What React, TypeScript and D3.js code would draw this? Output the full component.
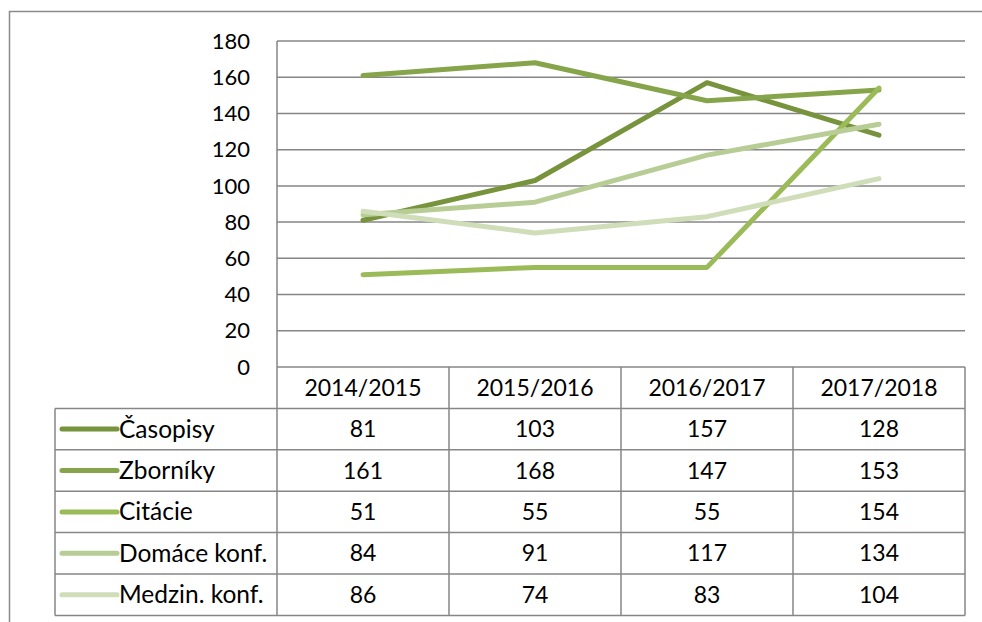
import * as d3 from 'd3';

const years = ['2014/2015', '2015/2016', '2016/2017', '2017/2018'];
const seriesNames = ['Časopisy', 'Zborníky', 'Citácie', 'Domáce konf.', 'Medzin. konf.'];
const casopisy = [81, 103, 157, 128];
const zborniky = [161, 168, 147, 153];
const citacie = [51, 55, 55, 154];
const domace = [84, 91, 117, 134];
const medzin = [86, 74, 83, 104];
const yTicks = [0, 20, 40, 60, 80, 100, 120, 140, 160, 180];

const seriesValues = [casopisy, zborniky, citacie, domace, medzin];
const colors = ['#77933c', '#86a44a', '#9bbb59', '#b7cd95', '#cfddb9'];

const W = 982;
const H = 622;
const plotLeft = 277;
const plotRight = 965;
const plotTop = 41;
const plotBottom = 367;
const rowH = 41.4;
const legendLeft = 55;
const FONT = 'Lato, "Open Sans", sans-serif';
const gridColor = '#868686';

export default function App() {
  const x = d3.scaleBand<string>().domain(years).range([plotLeft, plotRight]);
  const y = d3.scaleLinear().domain([0, 180]).range([plotBottom, plotTop]);
  const line = d3
    .line<number>()
    .x((_, i) => (x(years[i]) as number) + x.bandwidth() / 2)
    .y((d) => y(d));

  const headerBottom = plotBottom + rowH;
  const tableBottom = headerBottom + rowH * seriesNames.length;

  return (
    <svg
      width={W}
      height={H}
      style={{ position: 'absolute', left: 0, top: 0, background: '#fff' }}
      fontFamily={FONT}
    >
      <rect x={0} y={0} width={W} height={H} fill="#fff" />
      {/* outer chart frame, clipped on right and bottom */}
      <rect x={9.5} y={11.5} width={W + 10} height={H + 10} fill="none" stroke="#8a8a8a" strokeWidth={1.5} />

      {/* gridlines */}
      {yTicks.map((t) => (
        <line key={t} x1={plotLeft} x2={plotRight} y1={y(t)} y2={y(t)} stroke={gridColor} strokeWidth={1.5} />
      ))}
      <line x1={plotLeft} x2={plotLeft} y1={plotTop} y2={tableBottom} stroke={gridColor} strokeWidth={1.5} />

      {/* y labels */}
      {yTicks.map((t) => (
        <text key={t} x={250} y={y(t)} dy="0.35em" textAnchor="end" fontSize={22} fill="#000">
          {t}
        </text>
      ))}

      {/* lines */}
      {seriesValues.map((vals, i) => (
        <path
          key={seriesNames[i]}
          d={line(vals) as string}
          fill="none"
          stroke={colors[i]}
          strokeWidth={5}
          strokeLinejoin="round"
          strokeLinecap="round"
        />
      ))}

      {/* data table */}
      <g stroke={gridColor} strokeWidth={1.5}>
        {years.map((yr) => (
          <line
            key={yr}
            x1={(x(yr) as number) + x.bandwidth()}
            x2={(x(yr) as number) + x.bandwidth()}
            y1={plotBottom}
            y2={tableBottom}
          />
        ))}
        <line x1={legendLeft} x2={legendLeft} y1={headerBottom} y2={tableBottom} />
        {seriesNames.map((_, i) => (
          <line
            key={i}
            x1={legendLeft}
            x2={plotRight}
            y1={headerBottom + rowH * i}
            y2={headerBottom + rowH * i}
          />
        ))}
        <line x1={legendLeft} x2={plotRight} y1={tableBottom} y2={tableBottom} />
      </g>

      {years.map((yr) => (
        <text
          key={yr}
          x={(x(yr) as number) + x.bandwidth() / 2}
          y={plotBottom + rowH / 2}
          dy="0.35em"
          textAnchor="middle"
          fontSize={23}
        >
          {yr}
        </text>
      ))}

      {seriesNames.map((name, i) => {
        const cy = headerBottom + rowH * i + rowH / 2;
        return (
          <g key={name}>
            <line x1={62} x2={117} y1={cy} y2={cy} stroke={colors[i]} strokeWidth={5} strokeLinecap="round" />
            <text x={119} y={cy} dy="0.35em" fontSize={24.5}>
              {name}
            </text>
            {seriesValues[i].map((v, j) => (
              <text
                key={j}
                x={(x(years[j]) as number) + x.bandwidth() / 2}
                y={cy}
                dy="0.35em"
                textAnchor="middle"
                fontSize={23}
              >
                {v}
              </text>
            ))}
          </g>
        );
      })}
    </svg>
  );
}
